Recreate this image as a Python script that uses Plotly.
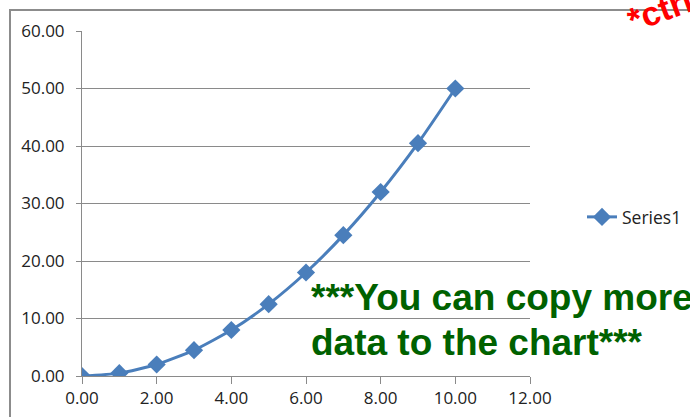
import plotly.graph_objects as go

# Series values
x_values = [0, 1, 2, 3, 4, 5, 6, 7, 8, 9, 10]
y_values = [0.0, 0.5, 2.0, 4.5, 8.0, 12.5, 18.0, 24.5, 32.0, 40.5, 50.0]
series_name = "Series1"

x_ticks = [0, 2, 4, 6, 8, 10, 12]
y_ticks = [0, 10, 20, 30, 40, 50, 60]

note_line1 = "***You can copy more"
note_line2 = "data to the chart***"
corner_note = "*ctrl"

W, H = 690, 417
ML, MR, MT, MB = 82, 160, 31, 41
PW, PH = W - ML - MR, H - MT - MB


def px_to_paper_x(px):
    return (px - ML) / PW


def px_to_paper_y(py):
    return (H - MB - py) / PH


fig = go.Figure()
fig.add_trace(go.Scatter(
    x=x_values, y=y_values, name=series_name,
    mode="lines+markers",
    line=dict(color="#4A7EBB", width=3, shape="spline", smoothing=0.6),
    marker=dict(symbol="diamond", size=14, color="#4A7EBB"),
))

axis_font = dict(family="Open Sans", size=17, color="#222222")

fig.update_layout(
    width=W, height=H,
    margin=dict(l=ML, r=MR, t=MT, b=MB, autoexpand=False),
    paper_bgcolor="white", plot_bgcolor="white",
    showlegend=True,
    legend=dict(
        x=px_to_paper_x(582), y=px_to_paper_y(217),
        xanchor="left", yanchor="middle",
        font=dict(family="Open Sans", size=17.5, color="#222222"),
        bgcolor="rgba(0,0,0,0)",
    ),
    xaxis=dict(
        range=[0, 12], tickvals=x_ticks,
        ticktext=[f"{v:.2f}" for v in x_ticks],
        showgrid=False, zeroline=False,
        showline=True, linecolor="#8A8A8A", linewidth=1,
        ticks="outside", ticklen=7, tickcolor="#8A8A8A",
        tickfont=axis_font,
    ),
    yaxis=dict(
        range=[0, 60], tickvals=y_ticks,
        ticktext=[f"{v:.2f}" for v in y_ticks],
        showgrid=True, gridcolor="#8A8A8A", gridwidth=1,
        zeroline=False,
        showline=True, linecolor="#8A8A8A", linewidth=1,
        ticks="outside", ticklen=5, tickcolor="#8A8A8A",
        tickfont=axis_font, ticklabelstandoff=8,
    ),
    shapes=[dict(
        type="rect", xref="paper", yref="paper",
        x0=px_to_paper_x(10), x1=px_to_paper_x(720),
        y0=px_to_paper_y(440), y1=px_to_paper_y(10),
        line=dict(color="#8C8C8C", width=2), fillcolor="rgba(0,0,0,0)",
        layer="below",
    )],
    annotations=[
        dict(text=f"<b>{note_line1}</b>", xref="paper", yref="paper",
             x=px_to_paper_x(309), y=px_to_paper_y(297),
             xanchor="left", yanchor="middle", showarrow=False,
             font=dict(family="Liberation Sans", size=37, color="#006100")),
        dict(text=f"<b>{note_line2}</b>", xref="paper", yref="paper",
             x=px_to_paper_x(309), y=px_to_paper_y(342),
             xanchor="left", yanchor="middle", showarrow=False,
             font=dict(family="Liberation Sans", size=37, color="#006100")),
        dict(text=f"<b>{corner_note}</b>", xref="paper", yref="paper",
             x=px_to_paper_x(620), y=px_to_paper_y(10),
             xanchor="left", yanchor="middle", showarrow=False, textangle=-20,
             font=dict(family="Liberation Sans", size=34, color="#FF0000")),
    ],
)

fig.write_html("out.html")
